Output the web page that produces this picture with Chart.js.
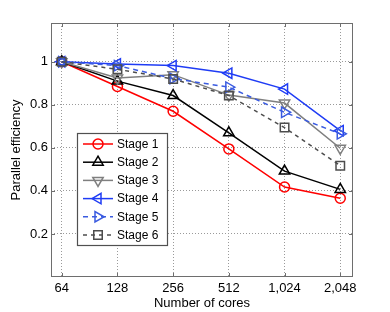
<!DOCTYPE html>
<html>
<head>
<meta charset="utf-8">
<script src="https://cdn.jsdelivr.net/npm/chart.js@4/dist/chart.umd.min.js"></script>
<style>
  html, body { margin: 0; padding: 0; background: #fff; }
  #wrap { width: 390px; height: 312px; }
</style>
</head>
<body>
<div id="wrap"><canvas id="effChart" width="390" height="312"></canvas></div>
<script>
const cores = [64, 128, 256, 512, 1024, 2048];
const yTicks = [0.2, 0.4, 0.6, 0.8, 1];
const stageNames = ['Stage 1', 'Stage 2', 'Stage 3', 'Stage 4', 'Stage 5', 'Stage 6'];
const stage1 = [1, 0.885, 0.77, 0.595, 0.418, 0.366];
const stage2 = [1, 0.91, 0.843, 0.67, 0.492, 0.407];
const stage3 = [1, 0.925, 0.94, 0.845, 0.808, 0.598];
const stage4 = [1, 0.99, 0.982, 0.947, 0.873, 0.68];
const stage5 = [1, 0.982, 0.922, 0.882, 0.765, 0.665];
const stage6 = [1, 0.965, 0.92, 0.843, 0.694, 0.517];

const styles = [
  { color: '#ff0000', point: 'circle', rot: 0, radius: 5, dash: [] },
  { color: '#000000', point: 'triangle', rot: 0, radius: 6, dash: [] },
  { color: '#7f7f7f', point: 'triangle', rot: 180, radius: 6, dash: [] },
  { color: '#1f3cf5', point: 'triangle', rot: -90, radius: 6, dash: [] },
  { color: '#3a5be0', point: 'triangle', rot: 90, radius: 6, dash: [5, 4] },
  { color: '#4d4d4d', point: 'rect', rot: 0, radius: 6, dash: [4, 4] }
];

const series = [stage1, stage2, stage3, stage4, stage5, stage6];
const fontName = '"Liberation Sans", Arial, Helvetica, sans-serif';

const datasets = series.map((vals, i) => ({
  label: stageNames[i],
  data: cores.map((c, j) => ({ x: c, y: vals[j] })),
  borderColor: styles[i].color,
  backgroundColor: 'rgba(0,0,0,0)',
  borderWidth: 1.5,
  borderDash: styles[i].dash,
  pointStyle: styles[i].point,
  pointRotation: styles[i].rot,
  pointRadius: styles[i].radius,
  pointBorderWidth: 1.5,
  pointBorderColor: styles[i].color,
  pointBackgroundColor: 'rgba(0,0,0,0)',
  tension: 0,
  order: 6 - i
}));

// frame, inner tick marks and the legend box
const framePlugin = {
  id: 'frame',
  afterDraw(chart) {
    const ctx = chart.ctx;
    const a = chart.chartArea;
    ctx.save();
    ctx.strokeStyle = '#6e6e6e';
    ctx.lineWidth = 1;
    ctx.strokeRect(a.left + 0.5, a.top + 0.5, a.right - a.left - 1, a.bottom - a.top - 1);
    const xs = chart.scales.x, ys = chart.scales.y;
    ctx.beginPath();
    xs.ticks.forEach(t => {
      const px = Math.round(xs.getPixelForValue(t.value)) + 0.5;
      ctx.moveTo(px, a.bottom); ctx.lineTo(px, a.bottom - 4);
      ctx.moveTo(px, a.top); ctx.lineTo(px, a.top + 4);
    });
    ys.ticks.forEach(t => {
      const py = Math.round(ys.getPixelForValue(t.value)) + 0.5;
      ctx.moveTo(a.left, py); ctx.lineTo(a.left + 4, py);
      ctx.moveTo(a.right, py); ctx.lineTo(a.right - 4, py);
    });
    ctx.stroke();

    // legend
    const bx = 77.5, by = 133.5, bw = 90, bh = 112;
    ctx.fillStyle = '#ffffff';
    ctx.fillRect(bx, by, bw, bh);
    ctx.strokeStyle = '#505050';
    ctx.lineWidth = 1.2;
    ctx.strokeRect(bx, by, bw, bh);
    ctx.font = '12px ' + fontName;
    ctx.textBaseline = 'middle';
    ctx.textAlign = 'left';
    stageNames.forEach((name, i) => {
      const st = styles[i];
      const y = 144 + i * 18.2;
      ctx.strokeStyle = st.color;
      ctx.lineWidth = 1.5;
      ctx.setLineDash(st.dash);
      ctx.beginPath();
      ctx.moveTo(83, y); ctx.lineTo(113, y);
      ctx.stroke();
      ctx.setLineDash([]);
      Chart.helpers.drawPoint(ctx, {
        pointStyle: st.point, rotation: st.rot, radius: st.radius, borderWidth: 1.5
      }, 98, y);
      ctx.fillStyle = '#000';
      ctx.fillText(name, 117, y + 0.5);
    });
    ctx.restore();
  }
};

// drawPoint needs stroke/fill colours set on the context
const origDraw = Chart.helpers.drawPoint;
Chart.helpers.drawPoint = function (ctx, opts, x, y) {
  ctx.save();
  ctx.fillStyle = 'rgba(0,0,0,0)';
  origDraw(ctx, opts, x, y);
  ctx.restore();
};

new Chart(document.getElementById('effChart'), {
  type: 'line',
  data: { datasets },
  plugins: [framePlugin],
  options: {
    responsive: false,
    animation: false,
    layout: { padding: { left: 0, right: 37, top: 23, bottom: 0 } },
    plugins: {
      legend: { display: false },
      tooltip: { enabled: false }
    },
    scales: {
      x: {
        type: 'logarithmic',
        min: 56,
        max: 2400,
        afterBuildTicks: scale => { scale.ticks = cores.map(v => ({ value: v })); },
        afterFit: scale => { scale.height = 35; },
        ticks: {
          color: '#000',
          padding: 4,
          autoSkip: false,
          maxRotation: 0,
          font: { family: fontName, size: 13 },
          callback: v => Number(v).toLocaleString('en-US')
        },
        grid: { color: '#9a9a9a', drawTicks: false, lineWidth: 1 },
        border: { display: false, dash: [1, 2] },
        title: {
          display: true,
          text: 'Number of cores',
          color: '#000',
          font: { family: fontName, size: 13 },
          padding: { top: 0, bottom: 1 }
        }
      },
      y: {
        min: 0,
        max: 1.18,
        afterBuildTicks: scale => { scale.ticks = yTicks.map(v => ({ value: v })); },
        afterFit: scale => { scale.width = 51; },
        ticks: {
          color: '#000',
          padding: 3,
          font: { family: fontName, size: 13 },
          callback: v => String(v)
        },
        grid: { color: '#9a9a9a', drawTicks: false, lineWidth: 1 },
        border: { display: false, dash: [1, 2] },
        title: {
          display: true,
          text: 'Parallel efficiency',
          color: '#000',
          font: { family: fontName, size: 13 },
          padding: { top: 9, bottom: 0 }
        }
      }
    }
  }
});
</script>
</body>
</html>
